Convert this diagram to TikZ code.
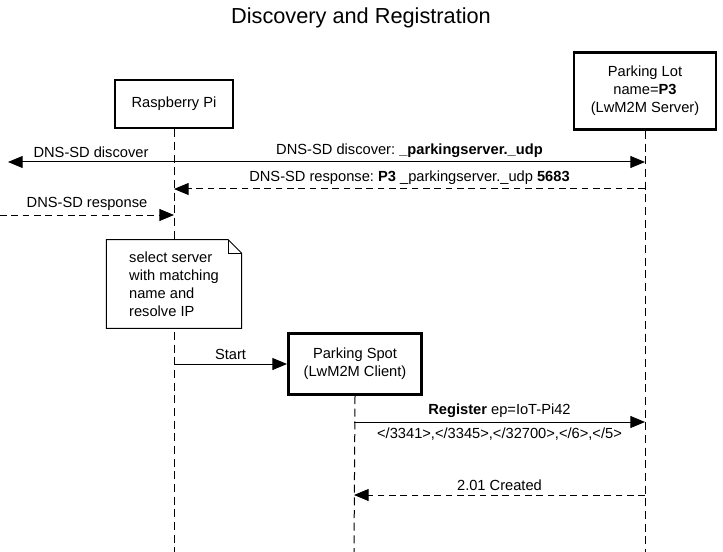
\documentclass[tikz,border=0pt]{standalone}
\usepackage{fontspec}
\setmainfont{Liberation Sans}
\usetikzlibrary{arrows.meta}
\frenchspacing
\begin{document}
\begin{tikzpicture}[x=0.75pt,y=-0.75pt,
  every node/.style={font=\fontsize{11}{13.5}\selectfont},
  actor/.style={draw, line width=2pt, fill=white, align=center, inner sep=2pt},
  lifeline/.style={line width=0.75pt, dash pattern=on 6pt off 3.5pt},
  msg/.style={line width=0.75pt, -{Triangle[length=11pt,width=9pt]}},
  reply/.style={msg, dash pattern=on 5pt off 3.5pt},
  lbl/.style={above, inner sep=3pt},
  notebox/.style={align=left, minimum width=101pt, minimum height=66pt, inner sep=0pt}
]
\useasboundingbox (0,0) rectangle (723,552);
\node[font=\fontsize{16.3}{19}\selectfont] (title) at (361,18) {Discovery and Registration};

% actors
\node[actor, minimum width=88.5pt, minimum height=36pt] (rpi) at (174,104) {Raspberry Pi};
\node[actor, minimum width=106.5pt, minimum height=58pt] (lot) at (645,91) {Parking Lot\\name=\textbf{P3}\\(LwM2M Server)};

% lifeline ends
\coordinate (rpiend) at (174,552);
\coordinate (lotend) at (645,552);
\coordinate (spotend) at (354,552);
\draw[lifeline] (rpi.south) -- (rpiend);
\draw[lifeline] (lot.south) -- (lotend);

% message points
\coordinate (r1) at (174,162); \coordinate (l1) at (645,162); \coordinate (w1) at (8,162);
\coordinate (r2) at (174,189); \coordinate (l2) at (645,189);
\coordinate (r3) at (174,215); \coordinate (w3) at (0,215);
\coordinate (r4) at (174,364);

\draw[msg] (r1) -- node[lbl] {DNS-SD discover} (w1);
\draw[msg] (r1) -- node[lbl] {DNS-SD discover: \textbf{\_parkingserver.\_udp}} (l1);
\draw[reply] (l2) -- node[lbl] {DNS-SD response: \textbf{P3} \_parkingserver.\_udp \textbf{5683}} (r2);
\draw[reply] (w3) -- node[lbl] {DNS-SD response} (r3);

% note
\node[notebox] (note) at (174,284) {select server\\with matching\\name and\\resolve IP};
\fill[white] (note.north west) rectangle (note.south east);
\draw[line width=0.75pt] (note.north west) -- ([xshift=-10pt]note.north east) -- ([yshift=-10pt]note.north east) -- (note.south east) -- (note.south west) -- cycle;
\draw[line width=0.75pt] ([xshift=-10pt]note.north east) -- ([xshift=-10pt,yshift=-10pt]note.north east) -- ([yshift=-10pt]note.north east);
\node[notebox] at (note.center) {select server\\with matching\\name and\\resolve IP};

% parking spot
\node[actor, minimum width=100pt, minimum height=46pt] (spot) at (355,364) {Parking Spot\\(LwM2M Client)};
\draw[msg] (r4) -- node[lbl] {Start} (spot.west);
\draw[lifeline] (spot.south) -- (spotend);

\coordinate (s5) at (354,422); \coordinate (l5) at (645,422);
\coordinate (s6) at (354,495); \coordinate (l6) at (645,495);
\draw[msg] (s5) -- node[lbl] {\textbf{Register} ep=IoT-Pi42} node[below, inner sep=4pt] {</3341>,</3345>,</32700>,</6>,</5>} (l5);
\draw[reply] (l6) -- node[lbl] {2.01 Created} (s6);
\end{tikzpicture}
\end{document}
